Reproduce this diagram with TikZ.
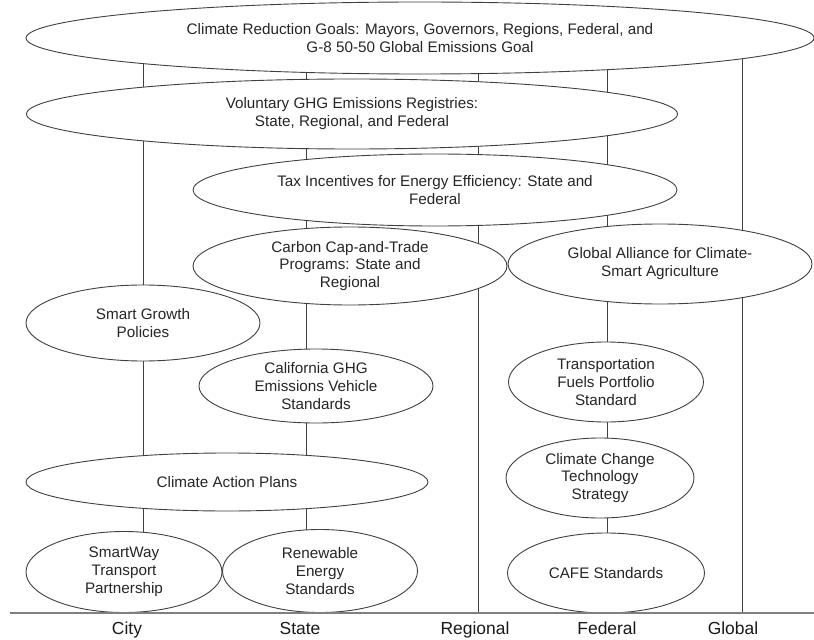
\documentclass[tikz,border=0pt]{standalone}
\usepackage{fontspec}
\setmainfont{Liberation Sans}
\usepackage{xcolor}
\usetikzlibrary{shapes.geometric,backgrounds}

\tikzset{
  goal/.style 2 args={ellipse, draw=black!75, line width=0.9bp, fill=white,
    minimum width=#1bp, minimum height=#2bp, inner sep=0pt, align=center,
    text=black!85, font=\fontsize{15.3}{18}\selectfont},
  level/.style={anchor=base, text=black!90, font=\fontsize{17.5}{20}\selectfont},
  tier/.style={black!75, line width=0.9bp},
  base/.style={black!50, line width=2bp}
}

\begin{document}
\begin{tikzpicture}[x=1bp,y=-1bp]
\useasboundingbox (0,0) rectangle (814,640);

% goals and programs, top to bottom
\node[goal={788}{72}] (goals) at (420,38) {Climate Reduction Goals: Mayors, Governors, Regions, Federal, and\\G-8 50-50 Global Emissions Goal};
\node[goal={651}{70}] (registries) at (352,114) {Voluntary GHG Emissions Registries:\\State, Regional, and Federal};
\node[goal={484}{72}] (tax) at (435,190) {Tax Incentives for Energy Efficiency: State and\\Federal};
\node[goal={314}{78}] (cap) at (350,266) {Carbon Cap-and-Trade\\Programs: State and\\Regional};
\node[goal={304}{80}] (alliance) at (660,264) {Global Alliance for Climate-\\Smart Agriculture};
\node[goal={234}{76}] (growth) at (143,323) {Smart Growth\\Policies};
\node[goal={234}{74}] (california) at (316,386) {California GHG\\Emissions Vehicle\\Standards};
\node[goal={195}{80}] (fuels) at (606,382) {Transportation\\Fuels Portfolio\\Standard};
\node[goal={402}{58}] (plans) at (227,482) {Climate Action Plans};
\node[goal={188}{80}] (tech) at (600,478) {Climate Change\\Technology\\Strategy};
\node[goal={196}{81}] (smartway) at (124,572) {SmartWay\\Transport\\Partnership};
\node[goal={195}{83}] (renewable) at (320,571) {Renewable\\Energy\\Standards};
\node[goal={197}{80}] (cafe) at (606,573) {CAFE Standards};

% axis
\coordinate (axisL) at (10,613);
\coordinate (axisR) at (814,613);
\coordinate (city) at (143,613);
\coordinate (state) at (306,613);
\coordinate (regional) at (478,613);
\coordinate (federal) at (607,613);
\coordinate (global) at (742,613);

% vertical level lines behind the ellipses
\begin{scope}[on background layer]
\draw[tier] (city) -- (city |- goals.center);
\draw[tier] (state) -- (state |- goals.center);
\draw[tier] (regional) -- (regional |- goals.center);
\draw[tier] (federal) -- (federal |- goals.center);
\draw[tier] (global) -- (global |- goals.center);
\end{scope}

\draw[base] (axisL) -- (axisR);

% level labels
\node[level] (lblcity) at (127,634) {City};
\node[level] (lblstate) at (300,634) {State};
\node[level] (lblregional) at (475,634) {Regional};
\node[level] (lblfederal) at (607,634) {Federal};
\node[level] (lblglobal) at (733,634) {Global};

\end{tikzpicture}
\end{document}
